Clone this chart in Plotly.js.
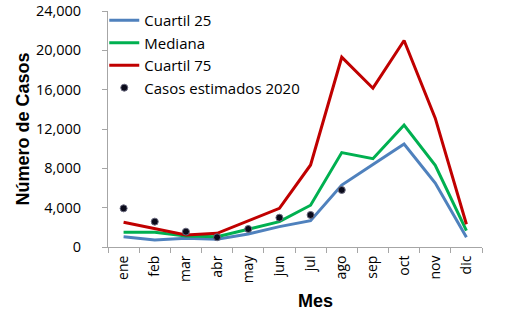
<!DOCTYPE html>
<html><head><meta charset="utf-8">
<script src="https://cdn.plot.ly/plotly-3.0.1.min.js"></script>
<style>html,body{margin:0;padding:0;background:#fff}#chart{width:508px;height:314px}</style>
</head><body><div id="chart"></div>
<script>
const months = ["ene","feb","mar","abr","may","jun","jul","ago","sep","oct","nov","dic"];
const cuartil25 = [1050, 710, 880, 780, 1320, 2070, 2680, 6300, 8400, 10480, 6500, 1000];
const mediana   = [1490, 1490, 1120, 1050, 1800, 2580, 4250, 9600, 8980, 12400, 8300, 1660];
const cuartil75 = [2510, 1830, 1220, 1390, 2650, 3930, 8340, 19300, 16150, 21000, 13100, 2310];
const estMonths = ["ene","feb","mar","abr","may","jun","jul","ago"];
const estimados = [3930, 2580, 1560, 990, 1830, 2980, 3260, 5800];
const yTicks = [0, 4000, 8000, 12000, 16000, 20000, 24000];

const traces = [
  {x: months, y: cuartil25, name: "Cuartil 25", type: "scatter", mode: "lines", line: {color: "#4F81BD", width: 3}},
  {x: months, y: mediana, name: "Mediana", type: "scatter", mode: "lines", line: {color: "#00B050", width: 3}},
  {x: months, y: cuartil75, name: "Cuartil 75", type: "scatter", mode: "lines", line: {color: "#C00000", width: 3}},
  {x: estMonths, y: estimados, name: "Casos estimados 2020", type: "scatter", mode: "markers",
   marker: {color: "#0a0a1a", size: 7, line: {color: "#6b6b80", width: 1}}}
];

const layout = {
  width: 508, height: 314,
  margin: {l: 108, r: 26, t: 11, b: 67, autoexpand: false},
  paper_bgcolor: "#fff", plot_bgcolor: "#fff",
  font: {family: "Open Sans, Noto Sans, sans-serif", color: "#000", size: 14},
  showlegend: true,
  legend: {x: -0.01, y: 1.03, xanchor: "left", yanchor: "top", bgcolor: "rgba(0,0,0,0)",
           font: {size: 15, family: "Open Sans, sans-serif"}, tracegroupgap: 0, itemwidth: 30},
  xaxis: {
    type: "category", categoryorder: "array", categoryarray: months,
    tickson: "boundaries", ticks: "outside", ticklen: 5, tickcolor: "#a6a6a6",
    showline: true, linecolor: "#a6a6a6", linewidth: 1, showgrid: false, zeroline: false,
    tickangle: -90, tickfont: {size: 14}, ticklabelstandoff: 2,
    range: [-0.5, 11.5],
    title: {text: ""}
  },
  yaxis: {
    range: [0, 24000], tickvals: yTicks, tickformat: ",",
    ticks: "outside", ticklen: 5, tickcolor: "#a6a6a6",
    showline: true, linecolor: "#a6a6a6", linewidth: 1, showgrid: false, zeroline: false,
    tickfont: {size: 14.5}, ticklabelstandoff: 18,
    title: {text: "Número de Casos", font: {size: 18, family: "Liberation Sans, Arial, sans-serif", weight: "bold"}, standoff: 1}
  },
  annotations: [{
    text: "<b>Mes</b>", xref: "paper", yref: "paper", x: (315 - 108) / 374, y: -(301 - 247) / 236,
    xanchor: "center", yanchor: "middle", showarrow: false,
    font: {size: 18, family: "Liberation Sans, Arial, sans-serif", color: "#000"}
  }]
};

Plotly.newPlot("chart", traces, layout, {displayModeBar: false, staticPlot: true});
</script>
</body></html>
